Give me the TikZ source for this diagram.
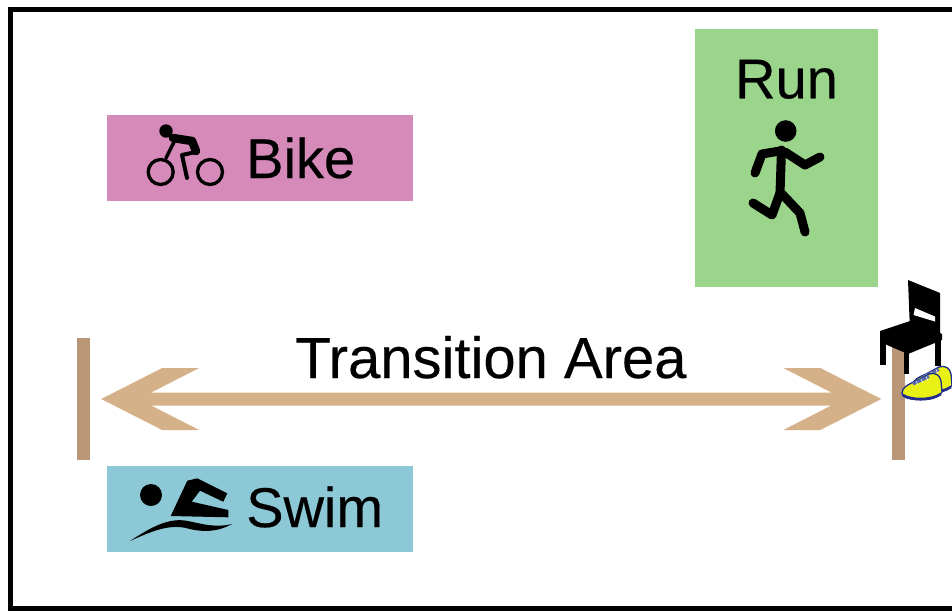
\documentclass[tikz,border=0pt]{standalone}
\usepackage{fontspec}
\setmainfont{Liberation Sans}[FakeBold=0.3]
\usetikzlibrary{calc}
\definecolor{bikePink}{RGB}{213,138,186}
\definecolor{runGreen}{RGB}{155,213,140}
\definecolor{swimBlue}{RGB}{140,200,213}
\definecolor{postBrown}{RGB}{185,150,118}
\definecolor{arrowTan}{RGB}{213,177,138}
\definecolor{shoeYellow}{RGB}{232,240,20}
\definecolor{shoeNavy}{RGB}{30,45,140}
\definecolor{laceBlue}{RGB}{90,105,170}

\begin{document}
\begin{tikzpicture}[
        x=1pt, y=-1pt,
        legBox/.style={rectangle, inner sep=0pt, minimum width=306pt, minimum height=86pt},
        legText/.style={inner sep=0pt, text=black, font=\fontsize{56}{60}\selectfont},
        postBar/.style={rectangle, fill=postBrown, inner sep=0pt, minimum width=13pt, minimum height=122pt},
        icon/.style={black, line cap=round, line join=round},
        shoe/.style={fill=shoeYellow, draw=shoeNavy, line width=1.3pt, line join=round}
    ]
        \useasboundingbox (0,0) rectangle (952,611);
        \clip (0,0) rectangle (952,611);
        \draw[line width=5pt] (10.5,9.5) rectangle (975,608.5);

        \node[legBox, fill=bikePink] (bike) at (260,158) {};
        \node[legBox, fill=swimBlue] (swim) at (260,508.5) {};
        \node[legBox, fill=runGreen, minimum width=183pt, minimum height=258pt] (run) at (786.5,157.5) {};

        \node[legText, anchor=base west] (bikeLabel) at (246,178) {Bike};
        \node[legText, anchor=base west] (swimLabel) at (246,527) {Swim};
        \node[legText, anchor=base] (runLabel) at ($(run.north)+(0,70)$) {Run};

        % bike icon
        \fill[icon] (166,131) circle (6.7pt);
        \draw[icon, line width=8.5pt] (173,138) -- (192,141) -- (196,151);
        \draw[icon, line width=3.5pt] (175,140) -- (166,158);
        \draw[icon, line width=4pt] (196,152) -- (182,155) -- (187,178);
        \draw[icon, line width=3.3pt] (160.7,172) circle (12.5pt);
        \draw[icon, line width=3.3pt] (210,172) circle (12.5pt);

        % runner
        \fill[icon] (785.7,131) circle (10.8pt);
        \draw[icon, line width=9pt] (781.5,150) -- (780,193);
        \draw[icon, line width=9pt] (780,151) -- (762,154) -- (755,173);
        \draw[icon, line width=9pt] (785,152) -- (805,165) -- (820,157);
        \draw[icon, line width=9pt] (780,193) -- (772,215) -- (753,203);
        \draw[icon, line width=9pt] (782,194) -- (800,213) -- (805,232);

        % swimmer
        \fill[icon] (151,495) circle (11pt);
        \fill[icon] (170.7,516) -- (187.3,480.7) -- (197.3,478.3) -- (227.3,493.3) -- (223.3,501.7)
            -- (200,490.7) -- (191.7,501.7) -- (228.3,510) -- (228.3,517.3) -- cycle;
        \fill[icon] (130,541) .. controls (150,528) and (168,517) .. (188,521)
            .. controls (202,524) and (216,528) .. (232,524)
            .. controls (216,533) and (200,532) .. (186,528)
            .. controls (168,524) and (150,532) .. (130,541) -- cycle;

        \node[postBar] (lPost) at (83.5,399) {};
        \node[postBar] (rPost) at (898.5,399) {};

        \coordinate (lTip) at ($(lPost.east)+(11,0)$);
        \coordinate (rTip) at ($(rPost.west)+(-10.5,0)$);
        \fill[arrowTan] (lTip) -- ++(61,-31) -- ++(37,0) -- ++(-48,24.5)
            -- ($(rTip)+(-50,-6.5)$) -- ++(-48,-24.5) -- ++(37,0) -- (rTip)
            -- ++(-61,31) -- ++(-37,0) -- ++(48,-24.5)
            -- ($(lTip)+(50,6.5)$) -- ++(48,24.5) -- ++(-37,0) -- cycle;
        \node[inner sep=0pt, anchor=base, font=\fontsize{58}{62}\selectfont] (areaLabel)
            at ($(lPost)!0.5!(rPost)+(0,-21)$) {Transition Area};

        % chair
        \fill[black] (908,280) -- (940,293) -- (940,337) -- (910,331) -- cycle;
        \fill[white] (915,308) -- (935,316.5) -- (935,321.5) -- (913.5,315) -- cycle;
        \fill[black] (880,331) -- (913,320) -- (942,334) -- (942,340) -- (908,354) -- (880,342) -- cycle;
        \fill[black] (880,335) rectangle (885.5,365);
        \fill[black] (935,336) rectangle (940.5,366);
        \fill[black] (903.5,350) rectangle (908.5,374);

        % shoes
        \foreach \dx/\dy in {10/-7, 0/0} {
            \begin{scope}[shift={(\dx,\dy)}]
                \filldraw[shoe] (902,393) .. controls (902,387) and (909,384) .. (916,381) -- (929,374)
                    .. controls (935,372) and (940,375) .. (941,381) -- (942,392)
                    .. controls (938,400) and (922,401) .. (911,399)
                    .. controls (905,398) and (902,396) .. (902,393) -- cycle;
                \draw[shoeNavy, line width=2.5pt] (903,395) .. controls (910,400) and (930,401) .. (941,394);
                \draw[laceBlue, line width=3pt] (913,384) -- (929,376.5);
                \draw[white, line width=0.6pt] (916,381) -- (918,385) (921,379) -- (923,383) (926,376.5) -- (928,380.5);
            \end{scope}
        }
\end{tikzpicture}
\end{document}
